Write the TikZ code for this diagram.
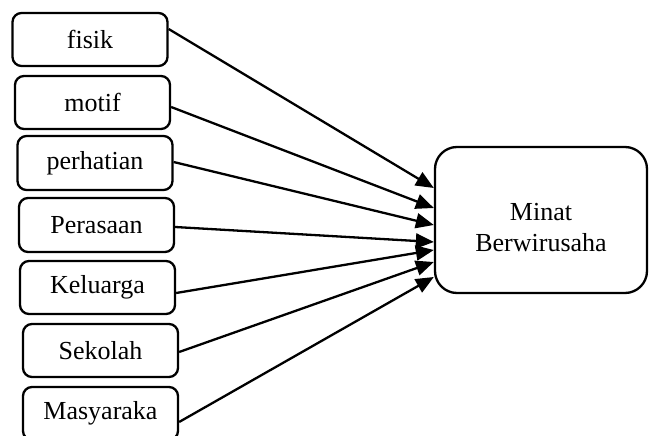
\documentclass[tikz,border=0pt]{standalone}
\usepackage{fontspec}
\setmainfont{Liberation Serif}
\usepackage{tikz}
\usetikzlibrary{arrows.meta}

\begin{document}
\begin{tikzpicture}[x=1pt, y=-1pt, line width=2.3pt,
        faktor/.style={draw, rounded corners=9pt, minimum width=155pt, minimum height=53pt, inner sep=0pt},
        panah/.style={-{Triangle[length=18pt, width=15pt]}}]
        \clip (0,0) rectangle (649,436);
        \fontsize{26}{31}\selectfont
        \node[faktor] (fisik) at (90,39.5) {fisik};
        \node[faktor] (motif) at (92.5,102.5) {motif};
        \node[faktor, minimum height=54pt] (perhatian) at (95,163) {perhatian};
        \node[faktor, minimum height=54pt] (perasaan) at (96.5,225) {Perasaan};
        \node[faktor] (keluarga) at (97.5,287.5) {Keluarga};
        \node[faktor] (sekolah) at (100.5,350.5) {Sekolah};
        \node[faktor] (masyarakat) at (100.5,413.5) {Masyaraka};
        \node[draw, rounded corners=22pt, minimum width=212pt, minimum height=146pt,
            label={[align=center, yshift=-8pt]center:Minat\\Berwirusaha}] (minat) at (541,220) {};
        
        
        \draw[panah] ([yshift=10.5pt]fisik.east) -- ([yshift=32pt]minat.west);
        \draw[panah] ([yshift=-4.5pt]motif.east) -- ([yshift=12pt]minat.west);
        \draw[panah] ([yshift=1pt]perhatian.east) -- ([yshift=-5pt]minat.west);
        \draw[panah] ([yshift=-2pt]perasaan.east) -- ([yshift=-22pt]minat.west);
        \draw[panah] ([yshift=-5.5pt]keluarga.east) -- ([yshift=-30pt]minat.west);
        \draw[panah] ([yshift=-1.5pt]sekolah.east) -- ([yshift=-42pt]minat.west);
        \draw[panah] ([yshift=-8.5pt]masyarakat.east) -- ([yshift=-57pt]minat.west);
    \end{tikzpicture}
\end{document}
